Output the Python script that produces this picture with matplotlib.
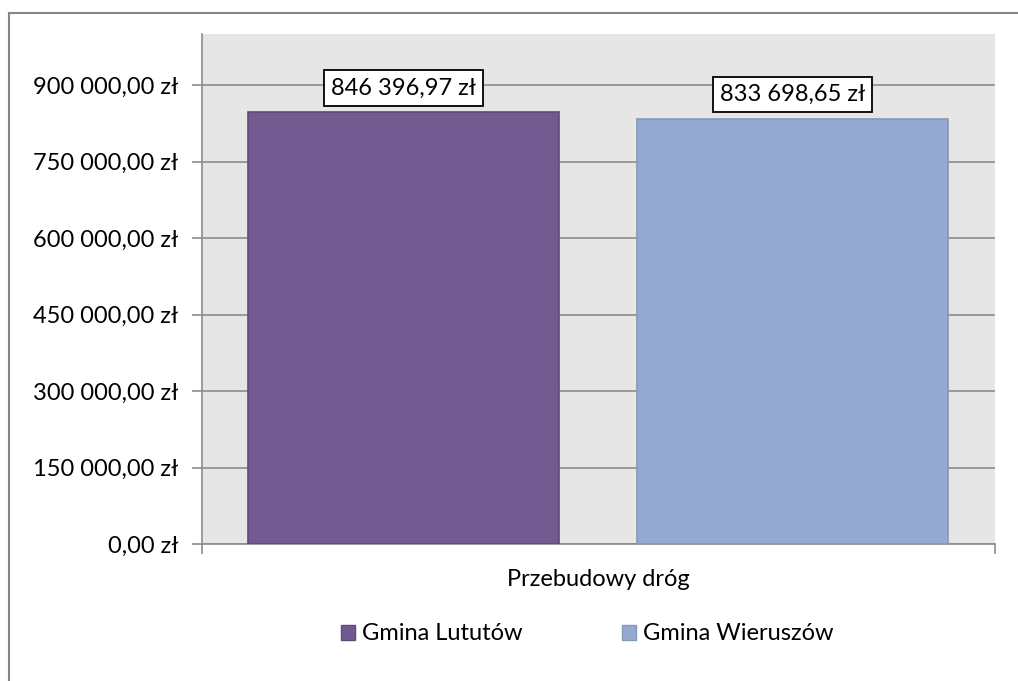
import matplotlib.pyplot as plt
from matplotlib.lines import Line2D
from matplotlib.patches import Patch

# data
category = 'Przebudowy dróg'
series = ['Gmina Lututów', 'Gmina Wieruszów']
values = [846396.97, 833698.65]
colors = ['#725990', '#95A9D1']
edges = ['#5E4A78', '#8797B6']
yticks = [0, 150000, 300000, 450000, 600000, 750000, 900000]

def zl(v):
    s = f"{v:,.2f}".replace(",", " ").replace(".", ",")
    return s + " zł"

plt.rcParams['font.family'] = ['Lato', 'DejaVu Sans']
fs = 17

fig = plt.figure(figsize=(10.18, 6.81), dpi=100)
ax = fig.add_axes([202/1018, 1-544/681, 793/1018, 510/681])
ax.set_facecolor('#E6E6E6')

# bar positions inside the single category
xpos = [-0.246, 0.245]
width = 0.392
bars = ax.bar(xpos, values, width=width, color=colors, edgecolor=edges, linewidth=1.2, zorder=3)

for b, v in zip(bars, values):
    ax.annotate(zl(v), (b.get_x() + b.get_width()/2, v), xytext=(0, 10), textcoords='offset points',
                ha='center', va='bottom', fontsize=fs, zorder=5,
                bbox=dict(boxstyle='square,pad=0.3', fc='white', ec='black', lw=1.3))

ax.set_xlim(-0.5, 0.5)
ax.set_ylim(0, 1000000)
ax.set_yticks(yticks)
ax.set_yticklabels([zl(t) for t in yticks], fontsize=fs)
ax.yaxis.grid(True, color='#8C8C8C', linewidth=1.2, zorder=0)
ax.set_axisbelow(True)

ax.set_xticks([-0.5, 0.5])
ax.set_xticklabels(['', ''])
ax.tick_params(axis='y', length=7, width=1.2, color='#8C8C8C', pad=10)
ax.tick_params(axis='x', length=7, width=1.2, color='#8C8C8C')
ax.text(0, -0.07, category, transform=ax.get_xaxis_transform(), ha='center', va='center', fontsize=fs)

for s in ['top', 'right']:
    ax.spines[s].set_visible(False)
for s in ['left', 'bottom']:
    ax.spines[s].set_color('#8C8C8C')
    ax.spines[s].set_linewidth(1.2)

handles = [Patch(facecolor=c, edgecolor=e, label=l) for c, e, l in zip(colors, edges, series)]
fig.legend(handles=handles, loc='center', bbox_to_anchor=(587/1018, 1-634/681), ncol=2, frameon=False,
           fontsize=fs, handlelength=0.6, handleheight=0.6, handletextpad=0.3, columnspacing=4.2)

# outer chart frame
fig.add_artist(Line2D([9/1018, 9/1018], [0, 1-13/681], color='#868686', lw=1.5, transform=fig.transFigure))
fig.add_artist(Line2D([9/1018, 1], [1-13/681, 1-13/681], color='#868686', lw=1.5, transform=fig.transFigure))

fig.savefig('out.png', dpi=100)
